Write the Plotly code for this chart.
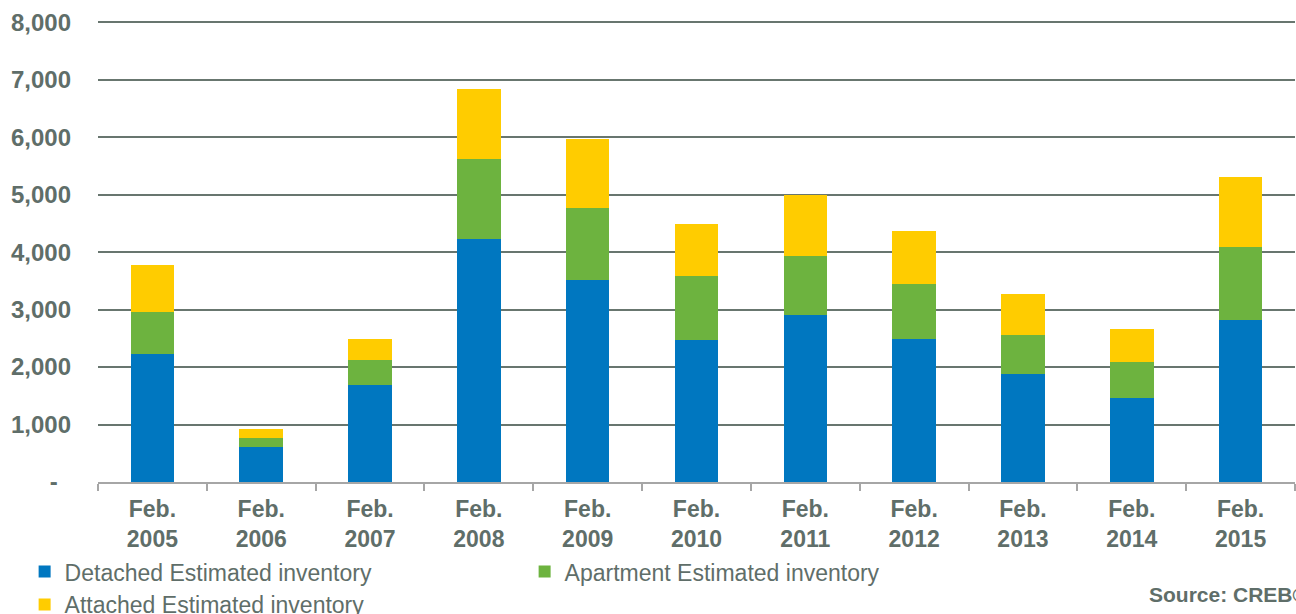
import plotly.graph_objects as go

categories = ["Feb.<br>2005", "Feb.<br>2006", "Feb.<br>2007", "Feb.<br>2008", "Feb.<br>2009",
              "Feb.<br>2010", "Feb.<br>2011", "Feb.<br>2012", "Feb.<br>2013", "Feb.<br>2014",
              "Feb.<br>2015"]

detached = [2220, 601, 1680, 4223, 3520, 2478, 2911, 2493, 1877, 1459, 2812]
apartment = [736, 169, 435, 1397, 1250, 1105, 1015, 951, 673, 627, 1271]
attached = [813, 161, 366, 1221, 1199, 907, 1062, 917, 726, 569, 1223]

y_tickvals = [0, 1000, 2000, 3000, 4000, 5000, 6000, 7000, 8000]
y_ticktext = ["-\u00a0\u00a0", "1,000", "2,000", "3,000", "4,000", "5,000", "6,000", "7,000", "8,000"]

TEXT = "#5f6e69"
FONT = "Liberation Sans, Arial, sans-serif"

fig = go.Figure()
fig.add_trace(go.Bar(x=categories, y=detached, name="Detached Estimated inventory",
                     marker=dict(color="#0077c0", line=dict(width=0))))
fig.add_trace(go.Bar(x=categories, y=apartment, name="Apartment Estimated inventory",
                     marker=dict(color="#6db33f", line=dict(width=0))))
fig.add_trace(go.Bar(x=categories, y=attached, name="Attached Estimated inventory",
                     marker=dict(color="#ffcc00", line=dict(width=0))))

fig.update_layout(
    width=1296, height=614,
    barmode="stack", bargap=0.6,
    plot_bgcolor="white", paper_bgcolor="white",
    margin=dict(l=98, r=1, t=20, b=132, autoexpand=False),
    font=dict(family=FONT, color=TEXT),
    xaxis=dict(
        type="category",
        tickson="boundaries",
        ticks="outside", ticklen=7, tickwidth=1.5, tickcolor="#a6a6a6",
        showline=True, linecolor="#a6a6a6", linewidth=1.5,
        showgrid=False, automargin=False,
        ticklabelstandoff=6,
        tickfont=dict(family=FONT, size=23, color=TEXT, weight="bold"),
    ),
    yaxis=dict(
        range=[0, 8040],
        tickvals=y_tickvals, ticktext=y_ticktext,
        showgrid=True, gridcolor="#68766f", gridwidth=2,
        zeroline=False, showline=False, automargin=False,
        ticks="", ticklabelstandoff=26,
        tickfont=dict(family=FONT, size=24, color=TEXT, weight="bold"),
    ),
    legend=dict(
        orientation="h",
        xref="container", yref="container",
        x=0.019, y=0.104, xanchor="left", yanchor="top",
        entrywidth=455, entrywidthmode="pixels",
        font=dict(family=FONT, size=23, color=TEXT),
        traceorder="normal",
        itemwidth=30,
        tracegroupgap=0,
    ),
    annotations=[dict(
        text="<b>Source: CREB©</b>", xref="paper", yref="paper",
        x=0.876, y=-0.243, xanchor="left", yanchor="middle", showarrow=False,
        font=dict(family=FONT, size=21, color=TEXT),
    )],
)

fig.write_html("out.html", config={"displayModeBar": False},
               post_script="document.body.style.margin='0';document.body.style.overflow='hidden';")
